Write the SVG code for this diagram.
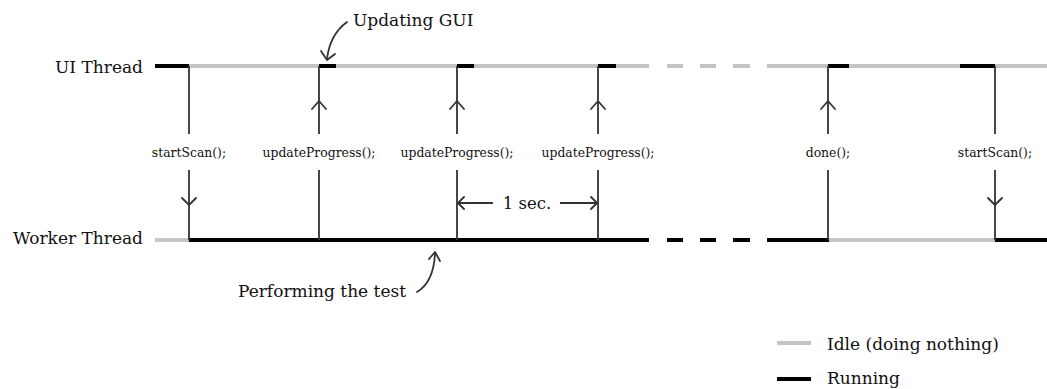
<svg xmlns="http://www.w3.org/2000/svg" width="1047" height="389" viewBox="0 0 1047 389">
<style>
.t{font-family:"DejaVu Serif","Liberation Serif",serif;fill:#111}
.lbl{font-size:17px}
.call{font-size:12.4px;text-anchor:middle}
.idle{stroke:#c4c4c4;stroke-width:4;fill:none}
.run{stroke:#000;stroke-width:4;fill:none}
.msg{stroke:#333;stroke-width:1.8;fill:none}
.head{stroke:#333;stroke-width:1.8;fill:none;stroke-linecap:round;stroke-linejoin:round}
</style>
<rect width="1047" height="389" fill="#fff"/>
<g id="ui-thread">
<text class="t lbl" x="143" y="73" text-anchor="end">UI Thread</text>
<path class="idle" d="M189 66H649M767 66H1047M667 66H683M700 66H716M733 66H750"/>
<path class="run" d="M155 66H189M319 66H336M457 66H474M598 66H616M828 66H849M960 66H995"/>
</g>
<g id="worker-thread">
<text class="t lbl" x="143" y="243.5" text-anchor="end">Worker Thread</text>
<path class="idle" d="M155 240H189M829 240H995"/>
<path class="run" d="M189 240H649M767 240H829M995 240H1047M667 240H683M700 240H716M733 240H750"/>
</g>
<g id="connectors">
<path class="msg" d="M189 66V134M189 170V240M319 66V134M319 170V240M457 66V134M457 170V240M598 66V134M598 170V240M828 66V134M828 170V240M995 66V134M995 170V240"/>
<path class="head" d="M182 198L189 205L196 198M988 198L995 205L1002 198M312 109L319 101L326 109M450 109L457 101L464 109M591 109L598 101L605 109M821 109L828 101L835 109"/>
<g id="interval">
<path class="msg" d="M458 203H493M560 203H597"/>
<path class="head" d="M464 197L458 203L464 209M591 197L597 203L591 209"/>
<text class="t" x="527" y="208.5" font-size="16.5" text-anchor="middle">1 sec.</text>
</g>
</g>
<g id="labels">
<text class="t call" x="189" y="157">startScan();</text>
<text class="t call" x="319" y="157">updateProgress();</text>
<text class="t call" x="457" y="157">updateProgress();</text>
<text class="t call" x="598" y="157">updateProgress();</text>
<text class="t call" x="828" y="157">done();</text>
<text class="t call" x="995" y="157">startScan();</text>
</g>
<g id="updating-gui">
<text class="t lbl" x="353" y="26">Updating GUI</text>
<path class="head" d="M347 22C336 30 329 42 327 59"/>
<path class="head" d="M321 51L327 60L335 54"/>
</g>
<g id="performing-test">
<text class="t lbl" x="238" y="297">Performing the test</text>
<path class="head" d="M417 292C429 285 434 272 435 254"/>
<path class="head" d="M429 259L435 252L440 261"/>
</g>
<g id="legend">
<path class="idle" d="M777 343H811"/>
<text class="t lbl" x="827" y="350">Idle (doing nothing)</text>
<path class="run" d="M777 379H811"/>
<text class="t lbl" x="827" y="384">Running</text>
</g>
</svg>
